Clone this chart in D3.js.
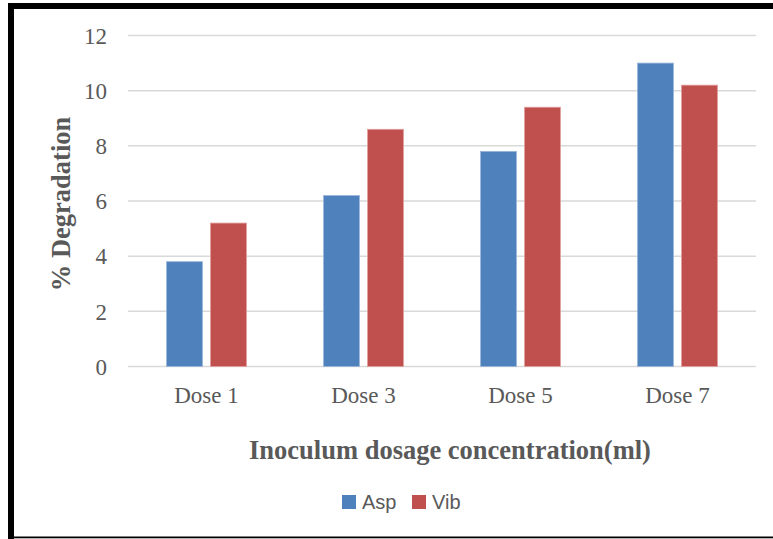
<!DOCTYPE html>
<html><head><meta charset="utf-8">
<script src="https://cdn.jsdelivr.net/npm/d3@7"></script>
<style>html,body{margin:0;padding:0;background:#fff;}svg{display:block;}</style>
</head><body>
<script>
const categories = ["Dose 1", "Dose 3", "Dose 5", "Dose 7"];
const seriesNames = ["Asp", "Vib"];
const aspValues = [3.8, 6.2, 7.8, 11.0];
const vibValues = [5.2, 8.6, 9.4, 10.2];
const yTicks = [0, 2, 4, 6, 8, 10, 12];
const colors = ["#4F81BD", "#C0504D"];

const W = 773, H = 539;
const svg = d3.select("body").append("svg").attr("width", W).attr("height", H);
svg.append("rect").attr("width", W).attr("height", H).attr("fill", "#fff");

// frame
svg.append("rect").attr("x", 8).attr("y", 3).attr("width", 6).attr("height", 536).attr("fill", "#000");
svg.append("rect").attr("x", 8).attr("y", 3).attr("width", 765).attr("height", 6).attr("fill", "#000");
svg.append("rect").attr("x", 8).attr("y", 536.5).attr("width", 765).attr("height", 1.8).attr("fill", "#000");

const x0 = d3.scaleBand().domain(categories).range([128, 756]);
const y = d3.scaleLinear().domain([0, 12]).range([366.5, 35.5]);
const barW = 36, gap = 8;

// gridlines
svg.append("g").selectAll("line").data(yTicks).join("line")
  .attr("x1", 128).attr("x2", 756)
  .attr("y1", d => y(d)).attr("y2", d => y(d))
  .attr("stroke", "#D9D9D9").attr("stroke-width", 1.5);

// y tick labels
const yAxis = d3.axisLeft(y).tickValues(yTicks).tickSize(0).tickPadding(0);
const gy = svg.append("g").attr("transform", "translate(107,0)").call(yAxis);
gy.select(".domain").remove();
gy.selectAll("text").attr("font-family", "Liberation Serif, Times New Roman, serif")
  .attr("font-size", 23).attr("fill", "#595959").attr("dy", "0.34em");

// bars
const seriesData = [aspValues, vibValues];
seriesData.forEach((vals, si) => {
  svg.append("g").selectAll("rect").data(vals).join("rect")
    .attr("x", (d, i) => x0(categories[i]) + x0.bandwidth() / 2 + (si === 0 ? -gap / 2 - barW : gap / 2))
    .attr("y", d => y(d))
    .attr("width", barW)
    .attr("height", d => y(0) - y(d))
    .attr("fill", colors[si])
    .attr("stroke", si === 0 ? "#9DB7DA" : "#E0A09E").attr("stroke-width", 0.8);
});

// x labels
const xAxis = d3.axisBottom(x0).tickSize(0).tickPadding(0);
const gx = svg.append("g").attr("transform", "translate(0,403)").call(xAxis);
gx.select(".domain").remove();
gx.selectAll("text").attr("font-family", "Liberation Serif, Times New Roman, serif")
  .attr("font-size", 23).attr("fill", "#595959").attr("dy", 0);

// axis titles
svg.append("text").attr("x", 450).attr("y", 459).attr("text-anchor", "middle")
  .attr("font-family", "Liberation Serif, Times New Roman, serif").attr("font-weight", "bold")
  .attr("font-size", 26.5).attr("fill", "#595959")
  .text("Inoculum dosage concentration(ml)");
svg.append("text").attr("transform", "translate(70,204) rotate(-90)").attr("text-anchor", "middle")
  .attr("font-family", "Liberation Serif, Times New Roman, serif").attr("font-weight", "bold")
  .attr("font-size", 26.5).attr("fill", "#595959")
  .text("% Degradation");

// legend
const legX = [342, 412];
seriesNames.forEach((n, i) => {
  svg.append("rect").attr("x", legX[i]).attr("y", 495).attr("width", 14).attr("height", 14).attr("fill", colors[i]);
  svg.append("text").attr("x", legX[i] + 20).attr("y", 509)
    .attr("font-family", "Liberation Sans, Arial, sans-serif").attr("font-size", 20)
    .attr("fill", "#595959").text(n);
});
</script>
</body></html>
